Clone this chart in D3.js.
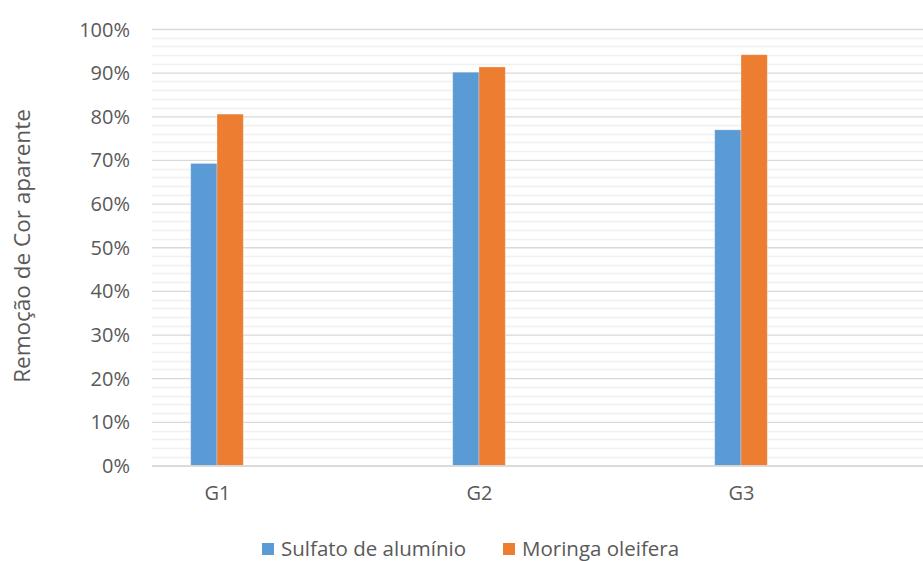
<!DOCTYPE html>
<html>
<head>
<meta charset="utf-8">
<script src="https://cdn.jsdelivr.net/npm/d3@7"></script>
<style>
html,body{margin:0;padding:0;background:#fff;}
svg{display:block;font-family:"Open Sans",sans-serif;}
</style>
</head>
<body>
<svg id="chart" width="923" height="561"></svg>
<script>
const categories = ["G1", "G2", "G3"];
const seriesNames = ["Sulfato de alumínio", "Moringa oleifera"];
const sulfato = [0.692, 0.901, 0.769];
const moringa = [0.805, 0.913, 0.941];
const yTicks = [0, 0.1, 0.2, 0.3, 0.4, 0.5, 0.6, 0.7, 0.8, 0.9, 1.0];
const colors = ["#5b9bd5", "#ed7d31"];
const yTitle = "Remoção de Cor aparente";

const svg = d3.select("#chart");
const plotLeft = 152, plotRight = 923;
const y = d3.scaleLinear().domain([0, 1]).range([465.5, 29]);
const x = d3.scalePoint().domain(categories).range([217, 741]);
const barW = 26.3;

// minor gridlines every 2%
const minor = d3.range(0, 51).map(i => i / 50).filter(v => Math.round(v * 50) % 5 !== 0);
svg.append("g").selectAll("line").data(minor).join("line")
  .attr("x1", plotLeft).attr("x2", plotRight)
  .attr("y1", d => Math.round(y(d)) + 0.5).attr("y2", d => Math.round(y(d)) + 0.5)
  .attr("stroke", "#f0f0f0").attr("stroke-width", 1.3);

// major gridlines via axis
const yAxis = d3.axisLeft(y).tickValues(yTicks).tickFormat(d3.format(".0%"))
  .tickSize(-(plotRight - plotLeft)).tickPadding(22);
const gy = svg.append("g").attr("transform", `translate(${plotLeft},0)`).call(yAxis);
gy.select(".domain").remove();
gy.selectAll(".tick line").attr("stroke", "#d9d9d9").attr("stroke-width", 1.3);
gy.selectAll(".tick text").attr("fill", "#595959").style("font-size", "20px")
  .style("font-family", "'Open Sans',sans-serif").attr("dy", "0.35em");

// bars
const series = [sulfato, moringa];
series.forEach((vals, si) => {
  svg.append("g").selectAll("rect").data(vals).join("rect")
    .attr("x", (d, i) => x(categories[i]) - barW + si * barW)
    .attr("y", d => y(d))
    .attr("width", barW)
    .attr("height", d => y(0) - y(d))
    .attr("fill", colors[si])
    .attr("stroke", "#ffffff").attr("stroke-opacity", 0.35).attr("stroke-width", 0.8);
});

// baseline
svg.append("line").attr("x1", plotLeft).attr("x2", plotRight)
  .attr("y1", 466).attr("y2", 466).attr("stroke", "#d9d9d9").attr("stroke-width", 1.3);

// x labels
const xAxis = d3.axisBottom(x).tickSize(0).tickPadding(20);
const gx = svg.append("g").attr("transform", `translate(0,466)`).call(xAxis);
gx.select(".domain").remove();
gx.selectAll(".tick text").attr("fill", "#595959").style("font-size", "20px")
  .style("font-family", "'Open Sans',sans-serif");

// y title
svg.append("text").attr("transform", "translate(30,246) rotate(-90)")
  .attr("text-anchor", "middle").attr("fill", "#595959").style("font-size", "22.5px")
  .text(yTitle);

// legend
const legendX = [262, 503];
const lg = svg.append("g").selectAll("g").data(seriesNames).join("g")
  .attr("transform", (d, i) => `translate(${legendX[i]},543)`);
lg.append("rect").attr("width", 12).attr("height", 12).attr("fill", (d, i) => colors[i]);
lg.append("text").attr("x", 19).attr("y", 6).attr("dy", "0.36em")
  .attr("fill", "#595959").style("font-size", "20.5px").text(d => d);
</script>
</body>
</html>
